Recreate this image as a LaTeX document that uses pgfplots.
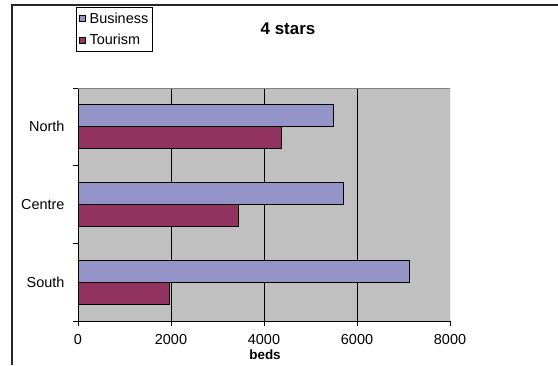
\documentclass[border=0pt]{standalone}
\usepackage{fontspec}
\setmainfont{Liberation Sans}
\usepackage{pgfplots}
\pgfplotsset{compat=1.18}

\definecolor{business}{RGB}{148,148,200}
\definecolor{tourism}{RGB}{147,51,95}
\definecolor{plotbg}{RGB}{192,192,192}
\definecolor{plotedge}{RGB}{128,128,128}

\begin{document}
\begin{tikzpicture}[x=1bp,y=1bp]
  \useasboundingbox (0,0) rectangle (558,365);
  % chart-area frame
  \draw[line width=1.3bp,black!85] (12,0) -- (12,360) -- (558,360);

  \begin{axis}[
    at={(78bp,44bp)}, anchor=south west,
    scale only axis, width=372bp, height=233bp,
    xmin=0, xmax=8000, ymin=-0.5, ymax=2.5,
    axis x line*=bottom, axis y line*=left,
    axis line style={black, line width=0.9bp},
    axis background/.style={fill=plotbg},
    xbar, bar width=22bp,
    xtick={0,2000,4000,6000,8000},
    extra x ticks={2000,4000,6000},
    extra x tick labels={},
    extra x tick style={grid=major, major tick length=0pt},
    major grid style={black, line width=0.8bp},
    ytick={0,1,2},
    yticklabels={South,Centre,North},
    minor ytick={-0.5,0.5,1.5,2.5},
    major y tick style={draw=none},
    minor y tick style={black, line width=0.8bp},
    tick align=outside,
    major tick length=5bp, minor tick length=5bp,
    x tick style={black, line width=0.8bp},
    /pgf/number format/1000 sep={},
    /pgf/number format/assume math mode=true,
    tick label style={font=\fontsize{14.5}{16}\selectfont},
    xticklabel style={yshift=-5bp},
    yticklabel style={xshift=-5bp},
    legend style={
      at={(axis description cs:-0.005,1.347)}, anchor=north west,
      draw=black, line width=0.8bp, fill=white,
      font=\fontsize{14.5}{16}\selectfont,
      inner xsep=2bp, inner ysep=3bp,
      row sep=6bp,
      /tikz/every odd column/.append style={column sep=2bp},
    },
    legend cell align=left,
    legend image code/.code={
      \draw[#1, line width=0.6bp] (0bp,-3.2bp) rectangle (6.5bp,3.2bp);
    },
  ]
    \addplot[fill=business, draw=black, line width=0.8bp, bar shift=11bp]
      coordinates {(7120,0) (5700,1) (5500,2)};
    \addlegendentry{Business}
    \addplot[fill=tourism, draw=black, line width=0.8bp, bar shift=-11bp]
      coordinates {(1970,0) (3450,1) (4370,2)};
    \addlegendentry{Tourism}
    % plot-area outline on the two open sides
    \draw[plotedge, line width=0.9bp]
      (rel axis cs:0,1) -- (rel axis cs:1,1) -- (rel axis cs:1,0);
  \end{axis}

  \node[font=\bfseries\fontsize{17}{19}\selectfont] at (288,336) {4 stars};
  \node[font=\bfseries\fontsize{13.5}{15}\selectfont] at (265,10.5) {beds};
\end{tikzpicture}
\end{document}
